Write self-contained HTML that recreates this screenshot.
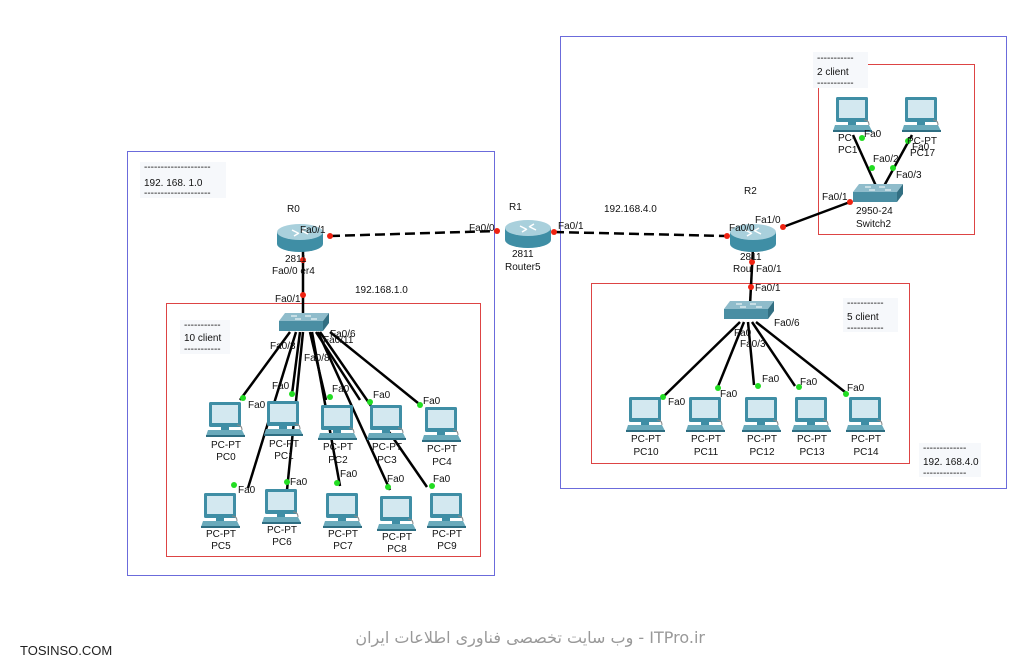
<!DOCTYPE html>
<html><head><meta charset="utf-8"><style>
body{margin:0;background:#fff}
svg{display:block}
text{font-family:"Liberation Sans",sans-serif;font-size:10px;fill:#111}
.l{font-size:10.5px}
</style></head><body>
<svg width="1024" height="671" viewBox="0 0 1024 671" xmlns="http://www.w3.org/2000/svg">
<defs>
<g id="pc">
 <rect x="2" y="-1" width="32" height="25" rx="1.5" fill="#3f8ea5"/>
 <rect x="5" y="2" width="26" height="18" fill="#d3e8f0"/>
 <rect x="14" y="24" width="8" height="3" fill="#3f8ea5"/>
 <path d="M1 27 L35 27 L38 33 L-1 33 Z" fill="#6aaabb"/>
 <rect x="-1" y="32" width="39" height="2" fill="#2e6e82"/>
 <path d="M30 22 q5 0 5 5" stroke="#888" fill="none"/>
</g>
<g id="router">
 <path d="M-23 -4 L-23 8 A23 8 0 0 0 23 8 L23 -4 Z" fill="#3f8ea5"/>
 <ellipse cx="0" cy="-4" rx="23" ry="8" fill="#a9d0dc"/>
 <path d="M-8 -6 l6 3 M8 -2 l-6 -3 M-6 0 l5 -3 M6 -8 l-5 3" stroke="#fff" stroke-width="1.5"/>
</g>
<g id="sw">
 <path d="M-18 -9 L26 -9 L20 -1 L-24 -1 Z" fill="#8fbccb"/>
 <rect x="-24" y="-1" width="44" height="10" fill="#4a8ea3"/>
 <path d="M20 -1 L26 -9 L26 1 L20 9 Z" fill="#326f82"/>
 <path d="M-12 -6 h6 M2 -6 h6 M-8 -3 h6 M8 -3 h6" stroke="#fff" stroke-width="1"/>
</g>
</defs>

<rect x="127.5" y="151.5" width="367" height="424" fill="none" stroke="#6b6bdb"/>
<rect x="166.5" y="303.5" width="314" height="253" fill="none" stroke="#d44"/>
<rect x="560.5" y="36.5" width="446" height="452" fill="none" stroke="#6b6bdb"/>
<rect x="591.5" y="283.5" width="318" height="180" fill="none" stroke="#d44"/>
<rect x="818.5" y="64.5" width="156" height="170" fill="none" stroke="#d44"/>

<rect x="140" y="162" width="86" height="36" fill="#f6f8fb"/>
<text x="144" y="170">--------------------</text><text x="144" y="186">192. 168. 1.0</text><text x="144" y="196">--------------------</text>
<rect x="180" y="320" width="50" height="34" fill="#f6f8fb"/>
<text x="184" y="328">-----------</text><text x="184" y="341">10 client</text><text x="184" y="352">-----------</text>
<rect x="813" y="52" width="55" height="36" fill="#f6f8fb"/>
<text x="817" y="61">-----------</text><text x="817" y="75">2 client</text><text x="817" y="86">-----------</text>
<rect x="843" y="298" width="55" height="34" fill="#f6f8fb"/>
<text x="847" y="306">-----------</text><text x="847" y="320">5 client</text><text x="847" y="331">-----------</text>
<rect x="919" y="443" width="62" height="34" fill="#f6f8fb"/>
<text x="923" y="451">-------------</text><text x="923" y="465">192. 168.4.0</text><text x="923" y="476">-------------</text>

<g stroke="#000" stroke-width="2.5" fill="none">
 <path d="M330 236 L497 231" stroke-dasharray="10,5"/>
 <path d="M554 232 L727 236" stroke-dasharray="10,5"/>
 <path d="M783 227 L850 202"/>
 <path d="M303 248 L303 318"/>
 <path d="M753 248 L750 305"/>
 <path d="M876 186 L853 135"/><path d="M884 186 L912 135"/>
 <path d="M290 332 L240 400"/><path d="M296 332 L248 488"/>
 <path d="M300 332 L292 394"/><path d="M303 332 L287 490"/>
 <path d="M310 332 L326 400"/><path d="M312 332 L340 486"/>
 <path d="M316 332 L360 400"/><path d="M318 332 L390 490"/>
 <path d="M330 332 L418 403"/><path d="M320 332 L427 487"/>
 <path d="M740 322 L662 398"/><path d="M744 322 L717 389"/>
 <path d="M748 322 L754 385"/><path d="M752 322 L795 386"/>
 <path d="M756 322 L845 392"/>
</g>
<g fill="#e21">
 <circle cx="330" cy="236" r="3"/><circle cx="497" cy="231" r="3"/><circle cx="554" cy="232" r="3"/>
 <circle cx="727" cy="236" r="3"/><circle cx="783" cy="227" r="3"/><circle cx="850" cy="202" r="3"/>
 <circle cx="303" cy="260" r="3"/><circle cx="303" cy="295" r="3"/>
 <circle cx="752" cy="262" r="3"/><circle cx="751" cy="287" r="3"/>
</g>
<g fill="#2d2">
 <circle cx="872" cy="168" r="3"/><circle cx="893" cy="168" r="3"/><circle cx="862" cy="138" r="3"/><circle cx="908" cy="141" r="3"/>
 <circle cx="243" cy="398" r="3"/><circle cx="292" cy="394" r="3"/><circle cx="330" cy="397" r="3"/><circle cx="370" cy="402" r="3"/><circle cx="420" cy="405" r="3"/>
 <circle cx="234" cy="485" r="3"/><circle cx="287" cy="482" r="3"/><circle cx="337" cy="483" r="3"/><circle cx="388" cy="487" r="3"/><circle cx="432" cy="486" r="3"/>
 <circle cx="663" cy="397" r="3"/><circle cx="718" cy="388" r="3"/><circle cx="758" cy="386" r="3"/><circle cx="799" cy="387" r="3"/><circle cx="846" cy="394" r="3"/>
</g>

<use href="#router" x="300" y="236"/>
<use href="#router" x="528" y="232"/>
<use href="#router" x="753" y="236"/>
<use href="#sw" x="303" y="322"/>
<use href="#sw" x="748" y="310"/>
<use href="#sw" x="877" y="193"/>

<use href="#pc" x="207" y="403"/><use href="#pc" x="265" y="402"/><use href="#pc" x="319" y="406"/><use href="#pc" x="368" y="406"/><use href="#pc" x="423" y="408"/>
<use href="#pc" x="202" y="494"/><use href="#pc" x="263" y="490"/><use href="#pc" x="324" y="494"/><use href="#pc" x="378" y="497"/><use href="#pc" x="428" y="494"/>
<use href="#pc" x="627" y="398"/><use href="#pc" x="687" y="398"/><use href="#pc" x="743" y="398"/><use href="#pc" x="793" y="398"/><use href="#pc" x="847" y="398"/>
<use href="#pc" x="834" y="98"/><use href="#pc" x="903" y="98"/>

<g class="l">
<text x="287" y="212">R0</text><text x="509" y="210">R1</text><text x="744" y="194">R2</text>
<text x="300" y="233">Fa0/1</text><text x="469" y="231">Fa0/0</text><text x="558" y="229">Fa0/1</text>
<text x="285" y="262">2811</text><text x="272" y="274">Fa0/0 er4</text>
<text x="512" y="257">2811</text><text x="505" y="270">Router5</text>
<text x="604" y="212">192.168.4.0</text><text x="355" y="293">192.168.1.0</text>
<text x="729" y="231">Fa0/0</text><text x="755" y="223">Fa1/0</text>
<text x="740" y="260">2811</text><text x="733" y="272">Rou</text><text x="756" y="272">Fa0/1</text><text x="755" y="291">Fa0/1</text>
<text x="275" y="302">Fa0/1</text>
<text x="822" y="200">Fa0/1</text><text x="856" y="214">2950-24</text><text x="856" y="227">Switch2</text>
<text x="873" y="162">Fa0/2</text><text x="896" y="178">Fa0/3</text>
<text x="838" y="141">PC-</text><text x="838" y="153">PC1</text><text x="864" y="137">Fa0</text>
<text x="907" y="144">PC-PT</text><text x="912" y="150">Fa0</text><text x="910" y="156">PC17</text>
<text x="330" y="337">Fa0/6</text><text x="270" y="349">Fa0/3</text><text x="323" y="343">Fa0/11</text><text x="304" y="361">Fa0/8</text>
<text x="734" y="336">Fa0</text><text x="774" y="326">Fa0/6</text><text x="740" y="347">Fa0/3</text>
<text x="248" y="408">Fa0</text><text x="272" y="389">Fa0</text><text x="332" y="392">Fa0</text><text x="373" y="398">Fa0</text><text x="423" y="404">Fa0</text>
<text x="238" y="493">Fa0</text><text x="290" y="485">Fa0</text><text x="340" y="477">Fa0</text><text x="387" y="482">Fa0</text><text x="433" y="482">Fa0</text>
<text x="668" y="405">Fa0</text><text x="720" y="397">Fa0</text><text x="762" y="382">Fa0</text><text x="800" y="385">Fa0</text><text x="847" y="391">Fa0</text>
</g>
<g class="l" text-anchor="middle">
<text x="226" y="448">PC-PT</text><text x="226" y="460">PC0</text>
<text x="284" y="447">PC-PT</text><text x="284" y="459">PC1</text>
<text x="338" y="450">PC-PT</text><text x="338" y="463">PC2</text>
<text x="387" y="450">PC-PT</text><text x="387" y="463">PC3</text>
<text x="442" y="452">PC-PT</text><text x="442" y="465">PC4</text>
<text x="221" y="537">PC-PT</text><text x="221" y="549">PC5</text>
<text x="282" y="533">PC-PT</text><text x="282" y="545">PC6</text>
<text x="343" y="537">PC-PT</text><text x="343" y="549">PC7</text>
<text x="397" y="540">PC-PT</text><text x="397" y="552">PC8</text>
<text x="447" y="537">PC-PT</text><text x="447" y="549">PC9</text>
<text x="646" y="442">PC-PT</text><text x="646" y="455">PC10</text>
<text x="706" y="442">PC-PT</text><text x="706" y="455">PC11</text>
<text x="762" y="442">PC-PT</text><text x="762" y="455">PC12</text>
<text x="812" y="442">PC-PT</text><text x="812" y="455">PC13</text>
<text x="866" y="442">PC-PT</text><text x="866" y="455">PC14</text>
</g>

<text x="20" y="655" style="font-size:13px;fill:#222">TOSINSO.COM</text>
<text x="705" y="643" text-anchor="end" style="font-family:'DejaVu Sans',sans-serif;font-size:16px;fill:#999" direction="ltr">وب سایت تخصصی فناوری اطلاعات ایران - ITPro.ir</text>
</svg>
</body></html>
